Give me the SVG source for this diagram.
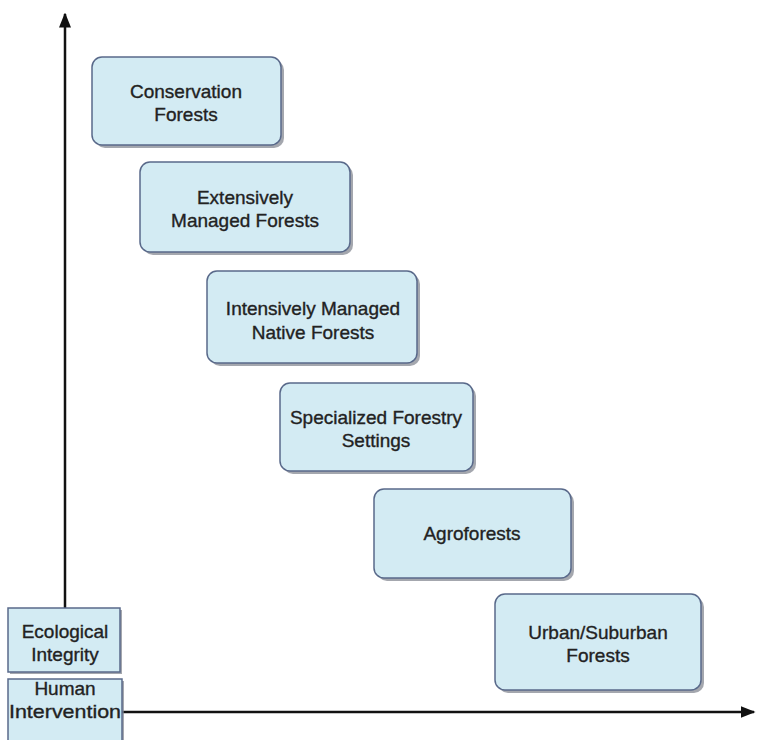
<svg xmlns="http://www.w3.org/2000/svg" width="758" height="740" viewBox="0 0 758 740">
<style>
.box{fill:#d3ebf3;stroke:#59698a;stroke-width:1.5}
.sh{fill:#7d828c;opacity:0.7}
.t{font-family:"Liberation Sans",Arial,sans-serif;font-size:19px;fill:#222;stroke:#222;stroke-width:0.35;text-anchor:middle}
.ax{stroke:#111;stroke-width:2.5;fill:none}
</style>
<defs>
<marker id="ah" viewBox="0 0 10 10" refX="9" refY="5" markerWidth="6" markerHeight="6" orient="auto" markerUnits="strokeWidth"><path d="M0,1 L10,5 L0,9 z" fill="#111"/></marker>
</defs>
<rect width="758" height="740" fill="#fff"/>
<g id="connectors">
<line class="ax" x1="65" y1="608" x2="65" y2="14" marker-end="url(#ah)"/>
<line class="ax" x1="122" y1="712" x2="754" y2="712" marker-end="url(#ah)"/>
</g>
<g id="n1"><rect class="sh" x="95" y="60" width="189" height="88" rx="10"/><rect class="box" x="92" y="57" width="189" height="88" rx="10"/><text class="t" x="186" y="98">Conservation</text><text class="t" x="186" y="121">Forests</text></g>
<g id="n2"><rect class="sh" x="143" y="165" width="210" height="90" rx="10"/><rect class="box" x="140" y="162" width="210" height="90" rx="10"/><text class="t" x="245" y="204">Extensively</text><text class="t" x="245" y="227">Managed Forests</text></g>
<g id="n3"><rect class="sh" x="210" y="274" width="210" height="92" rx="10"/><rect class="box" x="207" y="271" width="210" height="92" rx="10"/><text class="t" x="313" y="315">Intensively Managed</text><text class="t" x="313" y="339">Native Forests</text></g>
<g id="n4"><rect class="sh" x="283" y="386" width="193" height="88" rx="10"/><rect class="box" x="280" y="383" width="193" height="88" rx="10"/><text class="t" x="376" y="424">Specialized Forestry</text><text class="t" x="376" y="447">Settings</text></g>
<g id="n5"><rect class="sh" x="377" y="492" width="197" height="89" rx="10"/><rect class="box" x="374" y="489" width="197" height="89" rx="10"/><text class="t" x="472" y="540">Agroforests</text></g>
<g id="n6"><rect class="sh" x="498" y="597" width="206" height="96" rx="10"/><rect class="box" x="495" y="594" width="206" height="96" rx="10"/><text class="t" x="598" y="639">Urban/Suburban</text><text class="t" x="598" y="662">Forests</text></g>
<g id="eco"><rect class="sh" x="10" y="610" width="112" height="64"/><rect class="box" x="8" y="608" width="112" height="64"/><text class="t" x="65" y="638">Ecological</text><text class="t" x="65" y="661">Integrity</text></g>
<g id="hum"><rect class="sh" x="10" y="681" width="114" height="62"/><rect class="box" x="8" y="679" width="114" height="62"/><text class="t" x="65" y="695">Human</text><text class="t" x="65" y="718" textLength="112" lengthAdjust="spacingAndGlyphs">Intervention</text></g>
</svg>
